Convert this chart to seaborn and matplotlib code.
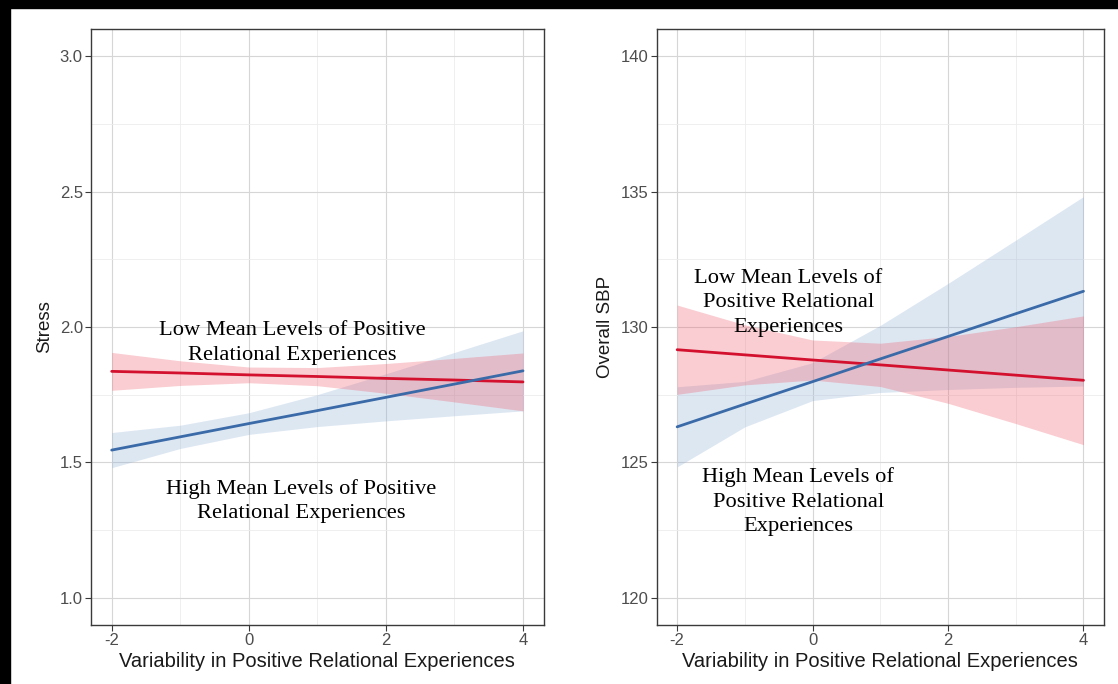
import matplotlib
matplotlib.use("Agg")
import numpy as np
import pandas as pd
import matplotlib.pyplot as plt
import seaborn as sns
from matplotlib.patches import Rectangle
from matplotlib.ticker import MultipleLocator

# values
x_vals = [-2, -1, 0, 1, 2, 3, 4]

# left panel: Stress
stress_low_fit = [1.836, 1.830, 1.823, 1.817, 1.810, 1.804, 1.797]
stress_low_lo = [1.766, 1.784, 1.794, 1.783, 1.755, 1.723, 1.690]
stress_low_hi = [1.906, 1.875, 1.852, 1.850, 1.865, 1.884, 1.904]
stress_high_fit = [1.545, 1.594, 1.643, 1.691, 1.740, 1.789, 1.838]
stress_high_lo = [1.480, 1.551, 1.603, 1.632, 1.653, 1.672, 1.690]
stress_high_hi = [1.610, 1.637, 1.683, 1.750, 1.827, 1.906, 1.986]

# right panel: Overall SBP
sbp_low_fit = [129.16, 128.97, 128.78, 128.60, 128.41, 128.22, 128.03]
sbp_low_lo = [127.51, 127.86, 128.04, 127.80, 127.18, 126.43, 125.65]
sbp_low_hi = [130.81, 130.08, 129.52, 129.40, 129.65, 130.01, 130.41]
sbp_high_fit = [126.31, 127.15, 127.98, 128.82, 129.65, 130.49, 131.32]
sbp_high_lo = [124.83, 126.31, 127.28, 127.58, 127.69, 127.77, 127.82]
sbp_high_hi = [127.79, 127.99, 128.68, 130.06, 131.61, 133.21, 134.82]

x_label = "Variability in Positive Relational Experiences"
low_text = "Low Mean Levels of Positive\nRelational Experiences"
high_text = "High Mean Levels of Positive\nRelational Experiences"
low_text_r = "Low Mean Levels of\nPositive Relational\nExperiences"
high_text_r = "High Mean Levels of\nPositive Relational\nExperiences"

RED = "#d3112e"
BLUE = "#3a6aa8"
RED_FILL = "#ee5a6a"
BLUE_FILL = "#8fb0d6"

sns.set_theme(style="whitegrid")
plt.rcParams['font.family'] = ['Liberation Sans', 'DejaVu Sans']
plt.rcParams['axes.unicode_minus'] = False


def draw_panel(ax, low, high, ylim, ymajor, ylabel, fmt):
    df = pd.DataFrame({
        'x': x_vals * 2,
        'y': low[0] + high[0],
        'group': ['Low'] * len(x_vals) + ['High'] * len(x_vals),
    })
    ax.fill_between(x_vals, high[1], high[2], color=BLUE_FILL, alpha=0.3, lw=0)
    ax.fill_between(x_vals, low[1], low[2], color=RED_FILL, alpha=0.3, lw=0)
    sns.lineplot(data=df, x='x', y='y', hue='group', hue_order=['Low', 'High'],
                 palette={'Low': RED, 'High': BLUE}, lw=2.0, legend=False, ax=ax)

    ax.set_xlim(-2.3, 4.3)
    ax.set_ylim(*ylim)
    ax.xaxis.set_major_locator(MultipleLocator(2))
    ax.xaxis.set_minor_locator(MultipleLocator(1))
    ax.yaxis.set_major_locator(MultipleLocator(ymajor))
    ax.yaxis.set_minor_locator(MultipleLocator(ymajor / 2))
    ax.yaxis.set_major_formatter(fmt)
    ax.grid(which='major', color='#d6d6d6', lw=0.8)
    ax.grid(which='minor', color='#ececec', lw=0.6)
    ax.set_facecolor('white')
    for s in ax.spines.values():
        s.set_color('#3a3a3a')
        s.set_linewidth(1.0)
    ax.tick_params(which='major', direction='out', length=4, width=0.8,
                   color='#3a3a3a', labelcolor='#4d4d4d', labelsize=12, pad=2,
                   left=True, bottom=True)
    ax.tick_params(which='minor', length=0)
    ax.set_xlabel(x_label, fontsize=14.5, color='#1a1a1a', labelpad=3)
    ax.set_ylabel(ylabel, fontsize=13.5, color='#1a1a1a', labelpad=5)


fig = plt.figure(figsize=(11.18, 6.84), dpi=100)
fig.patch.set_facecolor('white')
ax1 = fig.add_axes([0.0815, 0.0868, 0.4047, 0.8703])
ax2 = fig.add_axes([0.5875, 0.0868, 0.3998, 0.8703])

draw_panel(ax1, (stress_low_fit, stress_low_lo, stress_low_hi),
           (stress_high_fit, stress_high_lo, stress_high_hi),
           (0.9, 3.1), 0.5, "Stress", '{x:.1f}')
draw_panel(ax2, (sbp_low_fit, sbp_low_lo, sbp_low_hi),
           (sbp_high_fit, sbp_high_lo, sbp_high_hi),
           (119, 141), 5, "Overall SBP", '{x:.0f}')

serif = dict(ha='center', va='center', fontsize=16.2, linespacing=1.38,
             family=['Liberation Serif', 'DejaVu Serif'], color='black')
ax1.text(0.63, 1.941, low_text, **serif)
ax1.text(0.76, 1.357, high_text, **serif)
ax2.text(-0.355, 130.89, low_text_r, **serif)
ax2.text(-0.21, 123.54, high_text_r, **serif)

# black frame on the left and top edge of the picture
fig.patches.append(Rectangle((0, 0), 10 / 1118, 1, transform=fig.transFigure,
                             color='black', zorder=10))
fig.patches.append(Rectangle((0, 1 - 8 / 684), 1, 8 / 684, transform=fig.transFigure,
                             color='black', zorder=10))

fig.savefig('out.png', dpi=100)
